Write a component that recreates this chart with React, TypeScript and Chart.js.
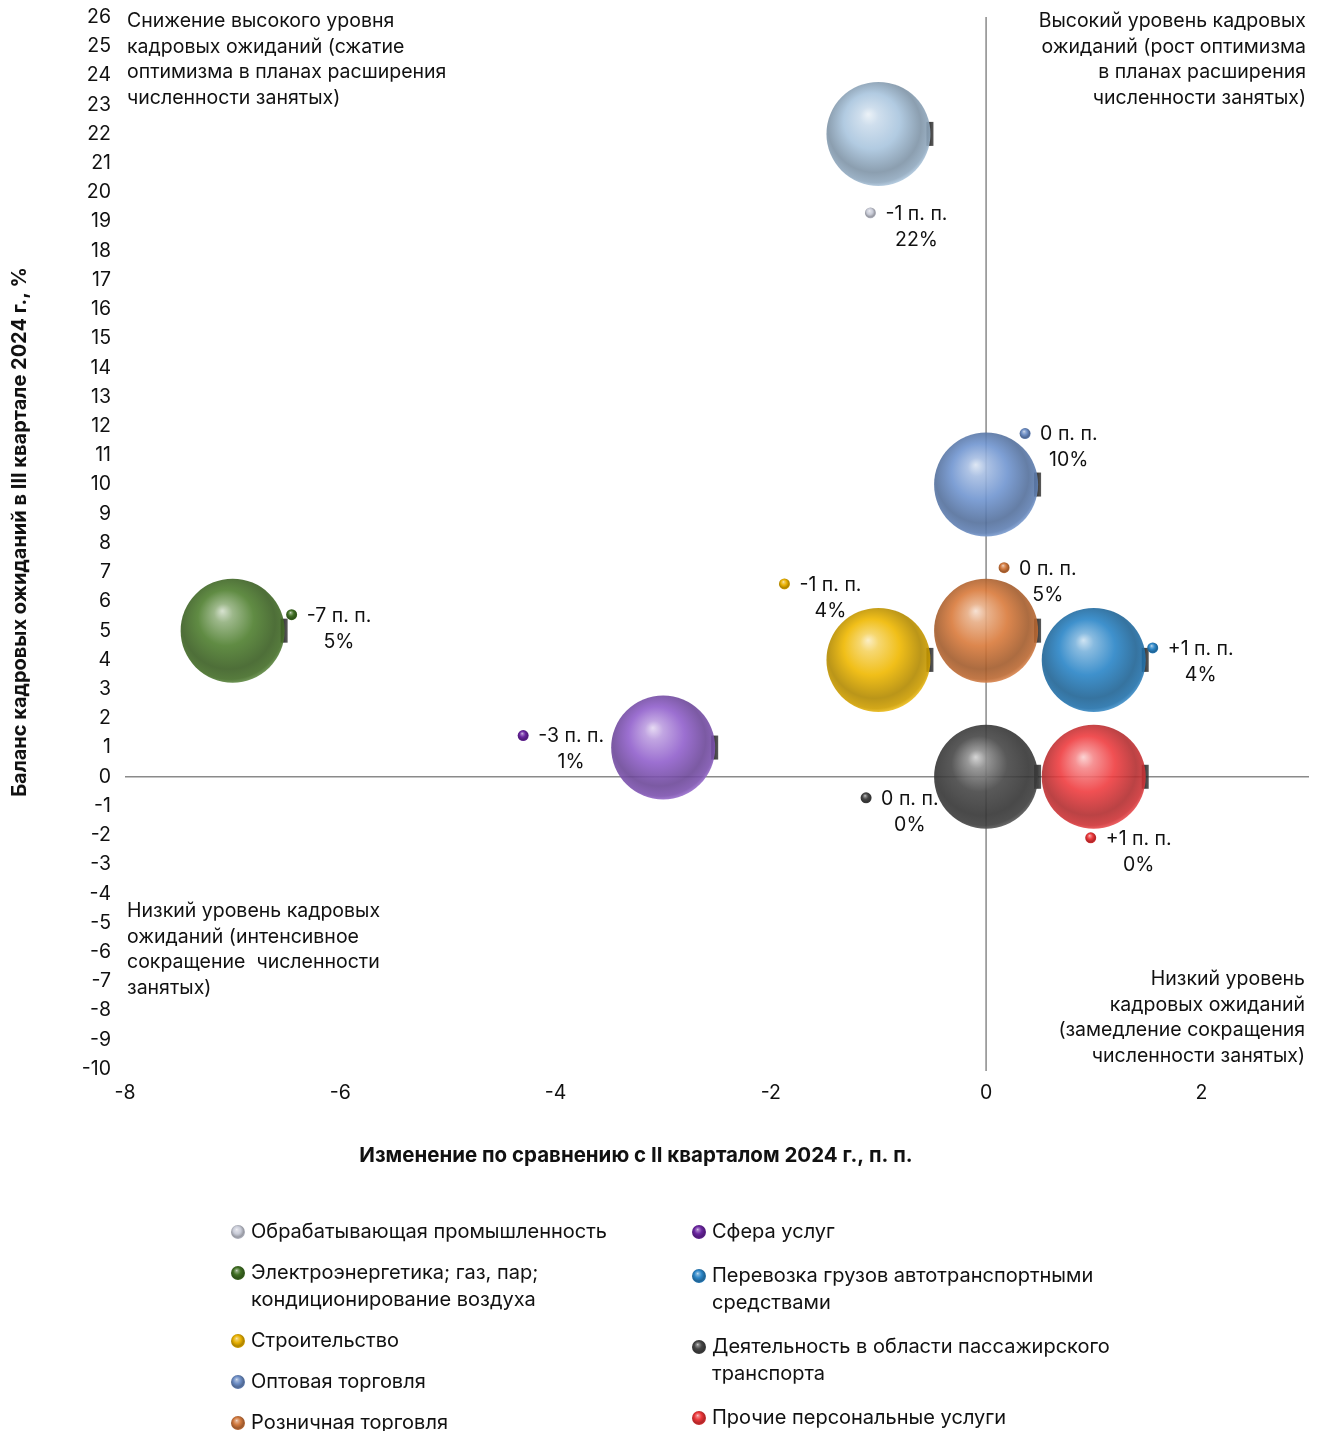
import React, { useEffect, useRef } from "react";
import { Chart, registerables } from "chart.js";

Chart.register(...registerables);

// ---------- data ----------
const categories = [
  "Обрабатывающая промышленность",
  "Электроэнергетика; газ, пар; кондиционирование воздуха",
  "Строительство",
  "Оптовая торговля",
  "Розничная торговля",
  "Сфера услуг",
  "Перевозка грузов автотранспортными средствами",
  "Деятельность в области пассажирского транспорта",
  "Прочие персональные услуги",
];
const changePP = [-1, -7, -1, 0, 0, -3, 1, 0, 1];
const balancePct = [22, 5, 4, 10, 5, 1, 4, 0, 0];
const colors = [
  "#a9c5de",
  "#4f7f2f",
  "#efb800",
  "#7095d0",
  "#d97a3b",
  "#9160cc",
  "#2a85c7",
  "#474747",
  "#ef3d40",
];
const legendColors = [
  "#c9ccd8",
  "#3f6e22",
  "#e8b000",
  "#6b8cc4",
  "#d0773c",
  "#6a25a0",
  "#2a85c7",
  "#454545",
  "#ea3437",
];
// pixel offsets of the data-label marker from the bubble centre
const labelOffsets: [number, number][] = [
  [-8, 79],
  [59, -16],
  [-94, -76],
  [39, -51],
  [18, -63],
  [-140, -12],
  [59, -12],
  [-120, 21],
  [-3, 61],
];
const xTickValues = [-8, -6, -4, -2, 0, 2];
const xMin = -8;
const xMax = 3;
const yMin = -10;
const yMax = 26;

const xTitle = "Изменение по сравнению с II кварталом 2024 г., п. п.";
const yTitle = "Баланс кадровых ожиданий в III квартале 2024 г., %";

const noteTopLeft = [
  "Снижение высокого уровня",
  "кадровых ожиданий (сжатие",
  "оптимизма в планах расширения",
  "численности занятых)",
];
const noteTopRight = [
  "Высокий уровень кадровых",
  "ожиданий (рост оптимизма",
  "в планах расширения",
  "численности занятых)",
];
const noteBottomLeft = [
  "Низкий уровень кадровых",
  "ожиданий (интенсивное",
  "сокращение  численности",
  "занятых)",
];
const noteBottomRight = [
  "Низкий уровень",
  "кадровых ожиданий",
  "(замедление сокращения",
  "численности занятых)",
];

// ---------- styling ----------
const FONT = "Inter, 'Noto Sans', sans-serif";
const BUBBLE_R = 52;
const W = 1324;
const H = 1431;

function hexToRgb(h: string): number[] {
  const n = parseInt(h.slice(1), 16);
  return [(n >> 16) & 255, (n >> 8) & 255, n & 255];
}
function mix(c: number[], t: number[], k: number): number[] {
  return c.map((v, i) => Math.round(v + (t[i] - v) * k));
}
function rgba(c: number[], a: number) {
  return `rgba(${c[0]},${c[1]},${c[2]},${a})`;
}
function sphereGradient(ctx: CanvasRenderingContext2D, cx: number, cy: number, r: number, hex: string, alpha = 1) {
  const base = hexToRgb(hex);
  const white = [255, 255, 255];
  const black = [0, 0, 0];
  const g = ctx.createRadialGradient(cx - 0.2 * r, cy - 0.38 * r, 0, cx - 0.05 * r, cy - 0.1 * r, r * 1.12);
  g.addColorStop(0, rgba(mix(base, white, 0.75), alpha));
  g.addColorStop(0.16, rgba(mix(base, white, 0.38), alpha));
  g.addColorStop(0.48, rgba(base, alpha));
  g.addColorStop(0.8, rgba(mix(base, black, 0.25), alpha));
  g.addColorStop(0.94, rgba(mix(base, black, 0.14), alpha));
  g.addColorStop(1, rgba(mix(base, white, 0.12), alpha));
  return g;
}
function drawSphere(ctx: CanvasRenderingContext2D, cx: number, cy: number, r: number, hex: string) {
  ctx.beginPath();
  ctx.arc(cx, cy, r, 0, Math.PI * 2);
  ctx.fillStyle = sphereGradient(ctx, cx, cy, r, hex, 1);
  ctx.fill();
}
function wrap(ctx: CanvasRenderingContext2D, text: string, maxW: number): string[] {
  const words = text.split(" ");
  const lines: string[] = [];
  let cur = "";
  for (const w of words) {
    const t = cur ? cur + " " + w : w;
    if (ctx.measureText(t).width > maxW && cur) {
      lines.push(cur);
      cur = w;
    } else cur = t;
  }
  if (cur) lines.push(cur);
  return lines;
}

const overlayPlugin = {
  id: "overlay",
  beforeDatasetsDraw(chart: any) {
    const { ctx, chartArea: a, scales } = chart;
    const x0 = scales.x.getPixelForValue(0);
    const y0 = scales.y.getPixelForValue(0);
    ctx.save();
    ctx.strokeStyle = "#8a8a8a";
    ctx.lineWidth = 1.5;
    ctx.beginPath();
    ctx.moveTo(x0, a.top);
    ctx.lineTo(x0, a.bottom + 2);
    ctx.moveTo(a.left, y0);
    ctx.lineTo(a.right, y0);
    ctx.stroke();
    // small dark shadow tabs at the right edge of each bubble
    chart.data.datasets.forEach((_: any, i: number) => {
      const el = chart.getDatasetMeta(i).data[0];
      if (!el || !isFinite(el.x) || !isFinite(el.y)) return;
      const g = ctx.createLinearGradient(el.x + BUBBLE_R - 4, 0, el.x + BUBBLE_R + 3, 0);
      g.addColorStop(0, "rgba(10,10,10,0.9)");
      g.addColorStop(1, "rgba(50,50,50,0.8)");
      ctx.fillStyle = g;
      ctx.fillRect(el.x + BUBBLE_R - 4, el.y - 12, 7, 24);
    });
    ctx.restore();
  },
  afterDatasetsDraw(chart: any) {
    const { ctx, chartArea: a } = chart;
    ctx.save();
    ctx.fillStyle = "#111";
    ctx.font = `19.5px ${FONT}`;
    ctx.textBaseline = "middle";
    // data labels
    chart.data.datasets.forEach((_: any, i: number) => {
      const el = chart.getDatasetMeta(i).data[0];
      if (!el || !isFinite(el.x) || !isFinite(el.y)) return;
      const mx = el.x + labelOffsets[i][0];
      const my = el.y + labelOffsets[i][1];
      drawSphere(ctx, mx, my, 5.5, legendColors[i]);
      const v = changePP[i];
      const l1 = `${v > 0 ? "+" : ""}${v} п. п.`;
      const l2 = `${balancePct[i]}%`;
      ctx.fillStyle = "#111";
      ctx.textAlign = "left";
      const tx = mx + 15;
      ctx.fillText(l1, tx, my + 1);
      const w1 = ctx.measureText(l1).width;
      ctx.textAlign = "center";
      ctx.fillText(l2, tx + w1 / 2, my + 27);
    });
    // quadrant notes
    const lh = 25.7;
    ctx.textAlign = "left";
    noteTopLeft.forEach((t, k) => ctx.fillText(t, a.left + 2, a.top + 4 + k * lh));
    noteBottomLeft.forEach((t, k) => ctx.fillText(t, a.left + 2, a.bottom - 158 + k * lh));
    ctx.textAlign = "right";
    noteTopRight.forEach((t, k) => ctx.fillText(t, a.right - 3, a.top + 4 + k * lh));
    noteBottomRight.forEach((t, k) => ctx.fillText(t, a.right - 4, a.bottom - 90 + k * lh));
    ctx.restore();
  },
  afterDraw(chart: any) {
    const { ctx } = chart;
    ctx.save();
    ctx.fillStyle = "#111";
    ctx.textBaseline = "middle";
    ctx.font = `bold 20.5px ${FONT}`;
    ctx.textAlign = "center";
    ctx.fillText(xTitle, 636, 1156);
    ctx.font = `bold 20px ${FONT}`;
    ctx.translate(20, 532);
    ctx.rotate(-Math.PI / 2);
    ctx.fillText(yTitle, 0, 0);
    ctx.restore();

    // legend (two columns)
    ctx.save();
    ctx.font = `20px ${FONT}`;
    ctx.textBaseline = "middle";
    ctx.textAlign = "left";
    const cols = [
      { x: 238, start: 0, end: 5, gap: 41 },
      { x: 699, start: 5, end: 9, gap: 44 },
    ];
    cols.forEach((c) => {
      let y = 1232;
      for (let i = c.start; i < c.end; i++) {
        drawSphere(ctx, c.x, y, 7, legendColors[i]);
        ctx.fillStyle = "#111";
        const lines = wrap(ctx, categories[i], 425);
        lines.forEach((ln, k) => ctx.fillText(ln, c.x + 13, y + k * 27));
        y += (lines.length - 1) * 27 + c.gap;
      }
    });
    ctx.restore();
  },
};

export default function App() {
  const ref = useRef<HTMLCanvasElement | null>(null);
  useEffect(() => {
    if (!ref.current) return;
    const datasets = categories.map((name, i) => ({
      label: name,
      data: [{ x: changePP[i], y: balancePct[i] }],
      radius: BUBBLE_R,
      hoverRadius: 0,
      borderWidth: 0,
      clip: false,
      backgroundColor: (c: any) => {
        const chart = c.chart;
        const xs = chart.scales && chart.scales.x;
        const ys = chart.scales && chart.scales.y;
        if (!xs || !ys || c.type !== "data") return colors[i];
        const px = xs.getPixelForValue(changePP[i]);
        const py = ys.getPixelForValue(balancePct[i]);
        if (!isFinite(px) || !isFinite(py)) return colors[i];
        return sphereGradient(chart.ctx, px, py, BUBBLE_R, colors[i], 0.9);
      },
    }));
    const chart = new Chart(ref.current, {
      type: "bubble",
      data: { datasets },
      options: {
        responsive: false,
        animation: false,
        events: [],
        layout: { autoPadding: false, padding: { top: 17, right: 15, bottom: 0, left: 0 } },
        plugins: {
          legend: { display: false },
          tooltip: { enabled: false },
          title: { display: false },
        },
        scales: {
          x: {
            type: "linear",
            min: xMin,
            max: xMax,
            grid: { display: false, drawTicks: false },
            border: { display: false },
            afterBuildTicks: (s: any) => {
              s.ticks = xTickValues.map((v) => ({ value: v }));
            },
            afterFit: (s: any) => {
              s.height = H - 1069;
              s.paddingLeft = 0;
              s.paddingRight = 0;
            },
            ticks: {
              autoSkip: false,
              maxRotation: 0,
              padding: 12,
              color: "#111",
              font: { family: FONT, size: 19.5 },
              callback: (v: any) => String(v),
            },
          },
          y: {
            type: "linear",
            min: yMin,
            max: yMax,
            grid: { display: false, drawTicks: false },
            border: { display: false },
            afterFit: (s: any) => {
              s.width = 125;
              s.paddingTop = 0;
              s.paddingBottom = 0;
            },
            ticks: {
              stepSize: 1,
              autoSkip: false,
              padding: 14,
              color: "#111",
              font: { family: FONT, size: 19.5 },
              callback: (v: any) => String(v),
            },
          },
        },
      },
      plugins: [overlayPlugin],
    } as any);
    return () => chart.destroy();
  }, []);
  return (
    <div style={{ position: "absolute", left: 0, top: 0, width: W, height: H, background: "#fff" }}>
      <canvas ref={ref} width={W} height={H} style={{ display: "block", width: W, height: H }} />
    </div>
  );
}
